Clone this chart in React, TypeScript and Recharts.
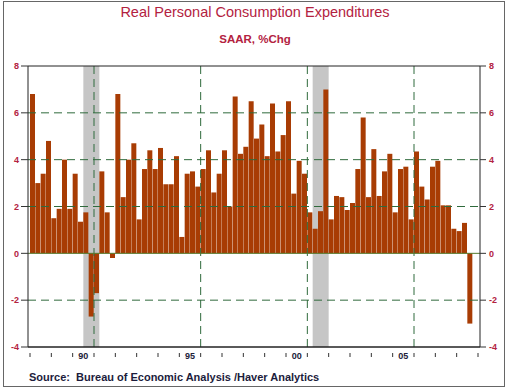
import React from 'react';
import {
  ComposedChart,
  Bar,
  XAxis,
  YAxis,
  ReferenceLine,
  ReferenceArea,
} from 'recharts';

// quarterly real PCE growth, SAAR %, 1988Q1 .. 2008Q4
const years = Array.from({ length: 21 }, (_, i) => 1988 + i);
const pce1988to1997 = [
  6.8, 3.0, 3.4, 4.8,
  1.5, 1.9, 4.0, 1.9,
  3.4, 1.35, 1.75, -2.7,
  -1.7, 3.5, 1.75, -0.2,
  6.8, 2.4, 4.0, 4.7,
  1.45, 3.6, 4.4, 3.6,
  4.5, 2.95, 2.95, 4.15,
  0.7, 3.4, 3.5, 2.85,
  3.6, 4.4, 2.6, 3.4,
  4.4, 2.0, 6.7, 4.25,
];
const pce1998to2008 = [
  4.55, 6.5, 4.9, 5.5,
  4.15, 6.4, 4.35, 5.05,
  6.5, 2.55, 3.95, 3.4,
  1.75, 1.05, 1.8, 7.0,
  1.45, 2.45, 2.4, 1.85,
  2.15, 3.6, 5.8, 2.4,
  4.45, 2.45, 3.5, 4.25,
  1.75, 3.6, 3.7, 1.45,
  4.35, 2.85, 2.3, 3.7,
  3.95, 2.05, 2.05, 1.05,
  0.95, 1.3, -3.0, null,
];
const pceValues = [...pce1988to1997, ...pce1998to2008];

// recession shading (quarters)
const recessions = [
  ['1990Q3', '1991Q1'],
  ['2001Q2', '2001Q4'],
];
const yearTicks = years.map((y) => `${y}Q1`);
const yTicks = [-4, -2, 0, 2, 4, 6, 8];
const gridLines = ['1991Q1', '1996Q1', '2001Q1', '2006Q1'];

const data = pceValues.map((v, i) => ({
  q: `${years[Math.floor(i / 4)]}Q${(i % 4) + 1}`,
  pce: v,
}));

const PLOT_LEFT = 28;
const PLOT_RIGHT = 480;
const PAD = 2;
const BAND = (PLOT_RIGHT - PLOT_LEFT - 2 * PAD) / data.length;

const RED = '#b3223f';
const GRID = '#2f6a3c';
const FONT = 'Arial, "Liberation Sans", sans-serif';

const YearTick = (props: any) => {
  const { x, y, payload } = props;
  const yr = parseInt(String(payload.value).slice(0, 4), 10);
  const start = x - BAND / 2;
  return (
    <g>
      <line x1={start} x2={start} y1={y + 6} y2={y + 10} stroke="#333" />
      {yr === 2008 ? (
        <line x1={start + 4 * BAND} x2={start + 4 * BAND} y1={y + 6} y2={y + 10} stroke="#333" />
      ) : null}
      {yr % 5 === 0 ? (
        <text
          x={start + 2 * BAND}
          y={y + 12}
          textAnchor="middle"
          fontSize={9}
          fontWeight="bold"
          fontFamily={FONT}
          fill="#22223a"
        >
          {String(yr).slice(2)}
        </text>
      ) : null}
    </g>
  );
};

export default function App() {
  return (
    <div
      style={{
        position: 'absolute',
        left: 0,
        top: 0,
        width: 510,
        height: 389,
        background: '#fff',
        fontFamily: FONT,
      }}
    >
      <div
        style={{
          position: 'absolute',
          left: 3,
          top: 1,
          width: 502,
          height: 386,
          border: '1px solid #666',
          boxSizing: 'border-box',
        }}
      />
      <div
        style={{
          position: 'absolute',
          top: 3,
          left: 0,
          width: 510,
          textAlign: 'center',
          fontSize: 14.5,
          lineHeight: '18px',
          color: RED,
        }}
      >
        Real Personal Consumption Expenditures
      </div>
      <div
        style={{
          position: 'absolute',
          top: 31,
          left: 0,
          width: 510,
          textAlign: 'center',
          fontSize: 11.5,
          fontWeight: 'bold',
          lineHeight: '16px',
          color: RED,
        }}
      >
        SAAR, %Chg
      </div>
      <div style={{ position: 'absolute', left: 0, top: 0 }}>
        <ComposedChart
          width={510}
          height={389}
          data={data}
          margin={{ top: 66, right: 0, bottom: 26, left: 0 }}
          barCategoryGap={0}
        >
          <XAxis
            dataKey="q"
            ticks={yearTicks}
            interval={0}
            padding={{ left: PAD, right: PAD }}
            height={16}
            tickSize={0}
            tickMargin={0}
            tickLine={false}
            axisLine={{ stroke: '#222' }}
            tick={<YearTick />}
          />
          <YAxis
            yAxisId="l"
            domain={[-4, 8]}
            ticks={yTicks}
            width={28}
            tickSize={7}
            tickMargin={2}
            axisLine={{ stroke: '#222' }}
            tickLine={{ stroke: '#333' }}
            tick={{ fill: RED, fontSize: 9, fontWeight: 'bold', fontFamily: FONT }}
          />
          <YAxis
            yAxisId="r"
            orientation="right"
            domain={[-4, 8]}
            allowDataOverflow
            ticks={yTicks}
            width={30}
            tickSize={6}
            tickMargin={3}
            axisLine={{ stroke: '#222' }}
            tickLine={{ stroke: '#333' }}
            tick={{ fill: RED, fontSize: 9, fontWeight: 'bold', fontFamily: FONT }}
          />
          {recessions.map(([a, b]) => (
            <ReferenceArea
              key={a}
              yAxisId="l"
              x1={a}
              x2={b}
              y1={-4}
              y2={8}
              fill="#c6c6c6"
              fillOpacity={1}
              stroke="none"
            />
          ))}
          <Bar yAxisId="l" dataKey="pce" fill="#a83c04" isAnimationActive={false} />
          {[-2, 2, 4, 6].map((v) => (
            <ReferenceLine key={v} yAxisId="l" y={v} stroke={GRID} strokeDasharray="8 5" />
          ))}
          {gridLines.map((q) => (
            <ReferenceLine
              key={q}
              yAxisId="l"
              x={q}
              position="start"
              stroke={GRID}
              strokeDasharray="8 5"
            />
          ))}
          <ReferenceLine yAxisId="l" y={0} stroke="#557a2c" />
          <ReferenceLine yAxisId="r" y={8} stroke="#222" ifOverflow="extendDomain" />
          <ReferenceLine yAxisId="r" y={-4} stroke="#222" ifOverflow="extendDomain" />
        </ComposedChart>
      </div>
      <div
        style={{
          position: 'absolute',
          left: 29,
          top: 370,
          fontSize: 11,
          fontWeight: 'bold',
          lineHeight: '14px',
          color: '#1c1c3c',
          whiteSpace: 'pre',
        }}
      >
        {'Source:  Bureau of Economic Analysis /Haver Analytics'}
      </div>
    </div>
  );
}
